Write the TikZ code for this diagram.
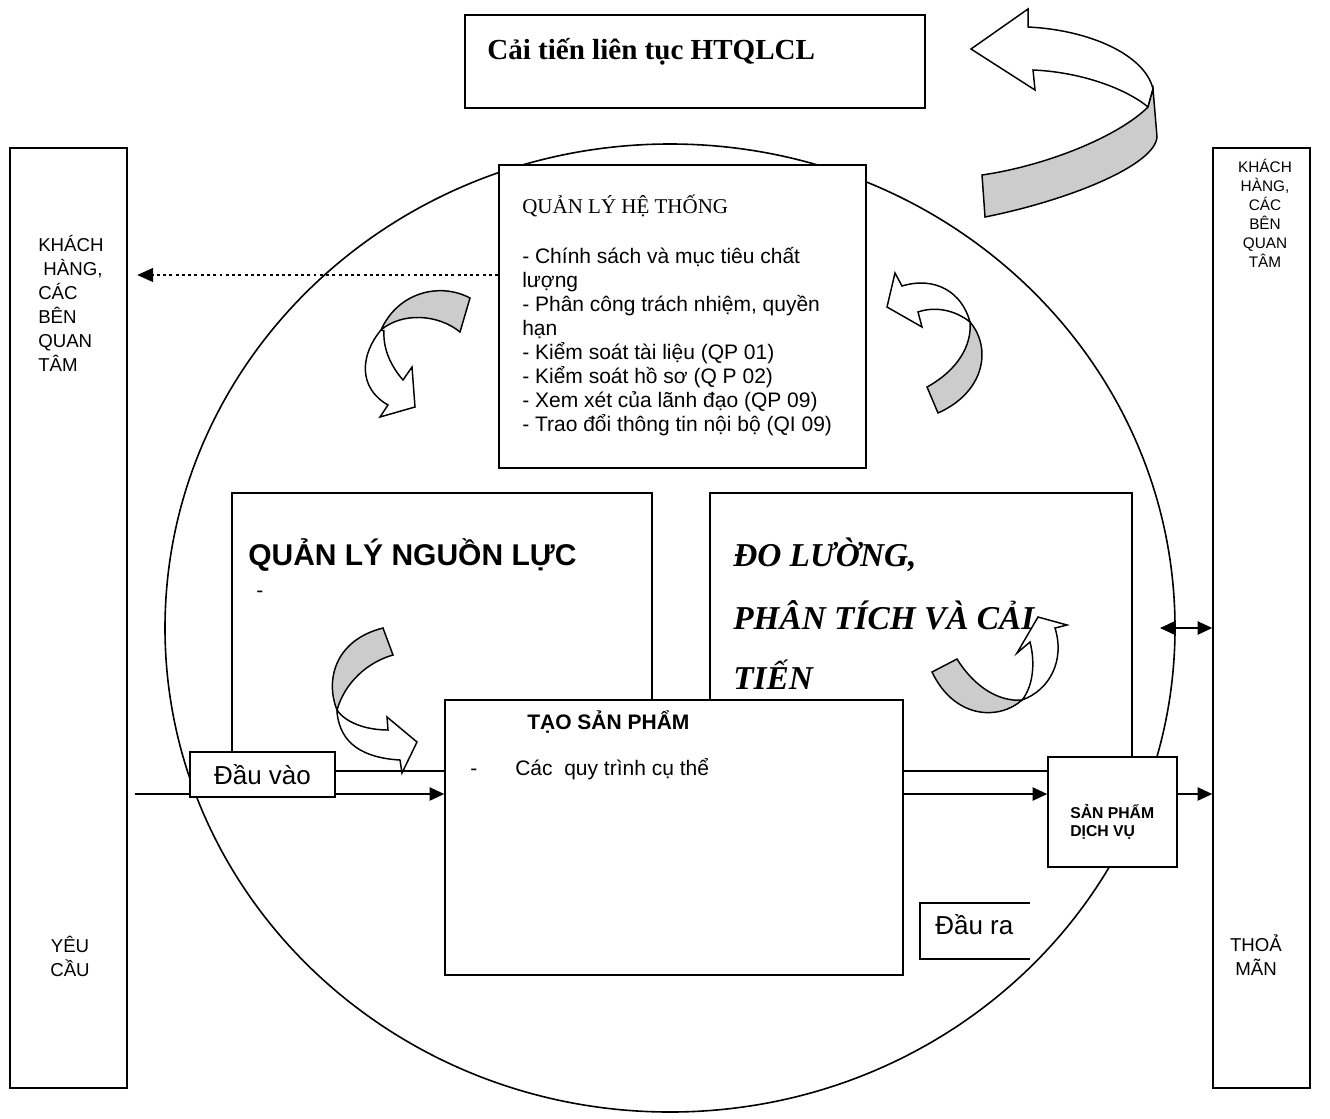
\documentclass[tikz,border=0pt]{standalone}
\usepackage{fontspec}
\setmainfont{Liberation Serif}
\setsansfont{Liberation Sans}
\usetikzlibrary{arrows.meta,fit}
\newcommand\fsz[2]{\fontsize{#1}{#2}\selectfont}

\begin{document}
\begin{tikzpicture}[x=0.75pt,y=-0.75pt,
  frame/.style={draw, line width=1.2pt, fill=white, inner sep=0pt},
  txt/.style={inner sep=0pt},
  bandtop/.style={draw, line width=1.1pt, fill=white, line join=miter},
  bandunder/.style={draw, line width=1.1pt, fill=black!20, line join=miter},
  flow/.style={line width=1.2pt, -{Triangle[length=11pt,width=10pt]}},
  flowboth/.style={line width=1.2pt, {Triangle[length=11pt,width=10pt]}-{Triangle[length=11pt,width=10pt]}},
  dotflow/.style={line width=2.2pt, dash pattern=on 2.2pt off 2.5pt, -{Triangle[length=12pt,width=10pt]}}
]
\useasboundingbox (0,0) rectangle (1330,1118);

% the big ring
\draw[line width=1.2pt] (670,628) ellipse [x radius=378.75pt, y radius=363pt];

% process blocks
\node[frame, fit={(232,493) (652,771)}] (qlnl) {};
\node[frame, fit={(710,493) (1132,771)}] (dl) {};
\node[frame, fit={(445,700) (903,975)}] (tao) {};
\node[frame, fit={(1048,757) (1177,867)}] (sp) {};

% side columns
\node[frame, fit={(10,148) (127,1088)}] (lb) {};
\node[frame, fit={(1213,148) (1310,1088)}] (rb) {};

% input flow, partly hidden by the input label box
\coordinate (inStart) at (135,794);
\draw[flow] (inStart) -- (tao.west |- inStart);
\node[frame, fit={(190,752) (335,797)}] (dv) {};

% output label box (open on the right)
\fill[white] (920,903) rectangle (1030,959);
\draw[line width=1.2pt] (1030,903) -- (920,903) -- (920,959) -- (1030,959);

% system management and improvement boxes
\node[frame, fit={(499,165) (866,468)}] (qlht) {};
\node[frame, fit={(465,15) (925,108)}] (ci) {};

% connectors
\coordinate (flowY) at (0,794);
\draw[flow] (tao.east |- flowY) -- (sp.west |- flowY);
\draw[flow] (sp.east |- flowY) -- (rb.west |- flowY);
\coordinate (dblL) at (1160,628);
\draw[flowboth] (dblL) -- (rb.west |- dblL);
\coordinate (dotEnd) at (137,275);
\draw[dotflow] (qlht.west |- dotEnd) -- (dotEnd);

% texts
\node[txt, anchor=base west, font=\bfseries\fsz{21.8}{26}] (ciT) at (487,59) {Cải tiến liên tục HTQLCL};

\node[txt, anchor=north west, align=left, font=\sffamily\fsz{14}{18}] (lbT) at (38,235)
  {KHÁCH\\\hspace{0.28em}HÀNG,\\CÁC\\BÊN\\QUAN\\TÂM};
\node[txt, anchor=north, align=center, font=\sffamily\fsz{14}{18}] (lbB) at (70,936) {YÊU\\CẦU};

\node[txt, anchor=north, align=center, font=\sffamily\fsz{11.5}{14.25}] (rbT) at (1265,159)
  {KHÁCH\\HÀNG,\\CÁC\\BÊN\\QUAN\\TÂM};
\node[txt, anchor=north, align=center, font=\sffamily\fsz{14}{18}] (rbB) at (1256,934) {THOẢ\\MÃN};

\node[txt, anchor=base west, font=\fsz{15.75}{18}] (qlhtT) at (522,213) {QUẢN LÝ HỆ THỐNG};
\node[txt, anchor=north west, align=left, font=\sffamily\fsz{15.75}{18}] (qlhtL) at (522,247)
  {- Chính sách và mục tiêu chất\\lượng\\- Phân công trách nhiệm, quyền\\hạn\\- Kiểm soát tài liệu (QP 01)\\- Kiểm soát hồ sơ (Q P 02)\\- Xem xét của lãnh đạo (QP 09)\\- Trao đổi thông tin nội bộ (QI 09)};

\node[txt, anchor=base west, font=\sffamily\bfseries\fsz{22.5}{26}] (qlnlT) at (248,565) {QUẢN LÝ NGUỒN LỰC};
\node[txt, anchor=base west, font=\sffamily\fsz{15.75}{18}] (qlnlD) at (256,597) {-};

\node[txt, anchor=base west, font=\bfseries\itshape\fsz{25}{30}] (dl1) at (733,566) {ĐO LƯỜNG,};
\node[txt, anchor=base west, font=\bfseries\itshape\fsz{25}{30}] (dl2) at (733,629) {PHÂN TÍCH VÀ CẢI};
\node[txt, anchor=base west, font=\bfseries\itshape\fsz{25}{30}] (dl3) at (733,689) {TIẾN};

\node[txt, anchor=base west, font=\sffamily\bfseries\fsz{15.75}{18}] (taoT) at (527,729) {TẠO SẢN PHẨM};
\node[txt, anchor=base west, font=\sffamily\fsz{15.75}{18}] (taoD) at (470,775) {-};
\node[txt, anchor=base west, font=\sffamily\fsz{15.75}{18}] (taoL) at (515,775) {Các~ quy trình cụ thể};

\node[txt, anchor=north west, align=left, font=\sffamily\bfseries\fsz{11.8}{13.5}] (spT) at (1070,804) {SẢN PHẨM\\DỊCH VỤ};

\node[txt, font=\sffamily\fsz{19.5}{22}] (dvT) at (dv.center) {Đầu vào};
\node[txt, anchor=base west, font=\sffamily\fsz{19.5}{22}] (drT) at (935,934) {Đầu ra};

% curved ribbon arrows
% top right, turning back toward the improvement box
\draw[bandtop] (971,49) -- (1028,9) -- (1028,27) .. controls (1090,30) and (1145,55) .. (1153,89)
  -- (1148,107) .. controls (1125,88) and (1080,72) .. (1033,70) -- (1035,90) -- cycle;
\draw[bandunder] (1153,89) -- (1157,137) .. controls (1155,165) and (1070,200) .. (985,217)
  -- (982,175) .. controls (1050,165) and (1120,135) .. (1148,107) -- cycle;

% upper left, pointing down
\draw[bandunder] (470,298) .. controls (440,282) and (398,292) .. (381,330)
  .. controls (402,312) and (438,314) .. (460,332) -- cycle;
\draw[bandtop] (381,330) .. controls (360,355) and (358,388) .. (388,405) -- (380,417) -- (415,407)
  -- (412,367) -- (403,380) .. controls (390,365) and (383,348) .. (384,331) -- cycle;

% upper right, pointing up-left
\draw[bandtop] (887,307) -- (895,273) -- (902,286) .. controls (935,276) and (962,292) .. (970,322)
  .. controls (955,310) and (935,306) .. (918,312) -- (922,327) -- cycle;
\draw[bandunder] (970,322) .. controls (992,348) and (985,392) .. (938,413) -- (927,387)
  .. controls (958,370) and (972,345) .. (970,322) -- cycle;

% lower left, pointing into the product block
\draw[bandunder] (383,628) -- (393,655) .. controls (368,662) and (345,682) .. (337,710)
  .. controls (325,680) and (335,640) .. (383,628) -- cycle;
\draw[bandtop] (337,710) .. controls (345,722) and (365,730) .. (388,730) -- (387,717) -- (417,742)
  -- (402,773) -- (400,760) .. controls (365,758) and (340,745) .. (337,712) -- cycle;

% lower right, pointing up
\draw[bandunder] (932,672) -- (957,659) .. controls (975,688) and (1000,702) .. (1022,700)
  .. controls (1000,720) and (955,720) .. (932,672) -- cycle;
\draw[bandtop] (1022,700) .. controls (1050,690) and (1065,660) .. (1055,628) -- (1067,625)
  -- (1038,617) -- (1017,653) -- (1030,642) .. controls (1036,665) and (1032,688) .. (1022,700) -- cycle;
\end{tikzpicture}
\end{document}
